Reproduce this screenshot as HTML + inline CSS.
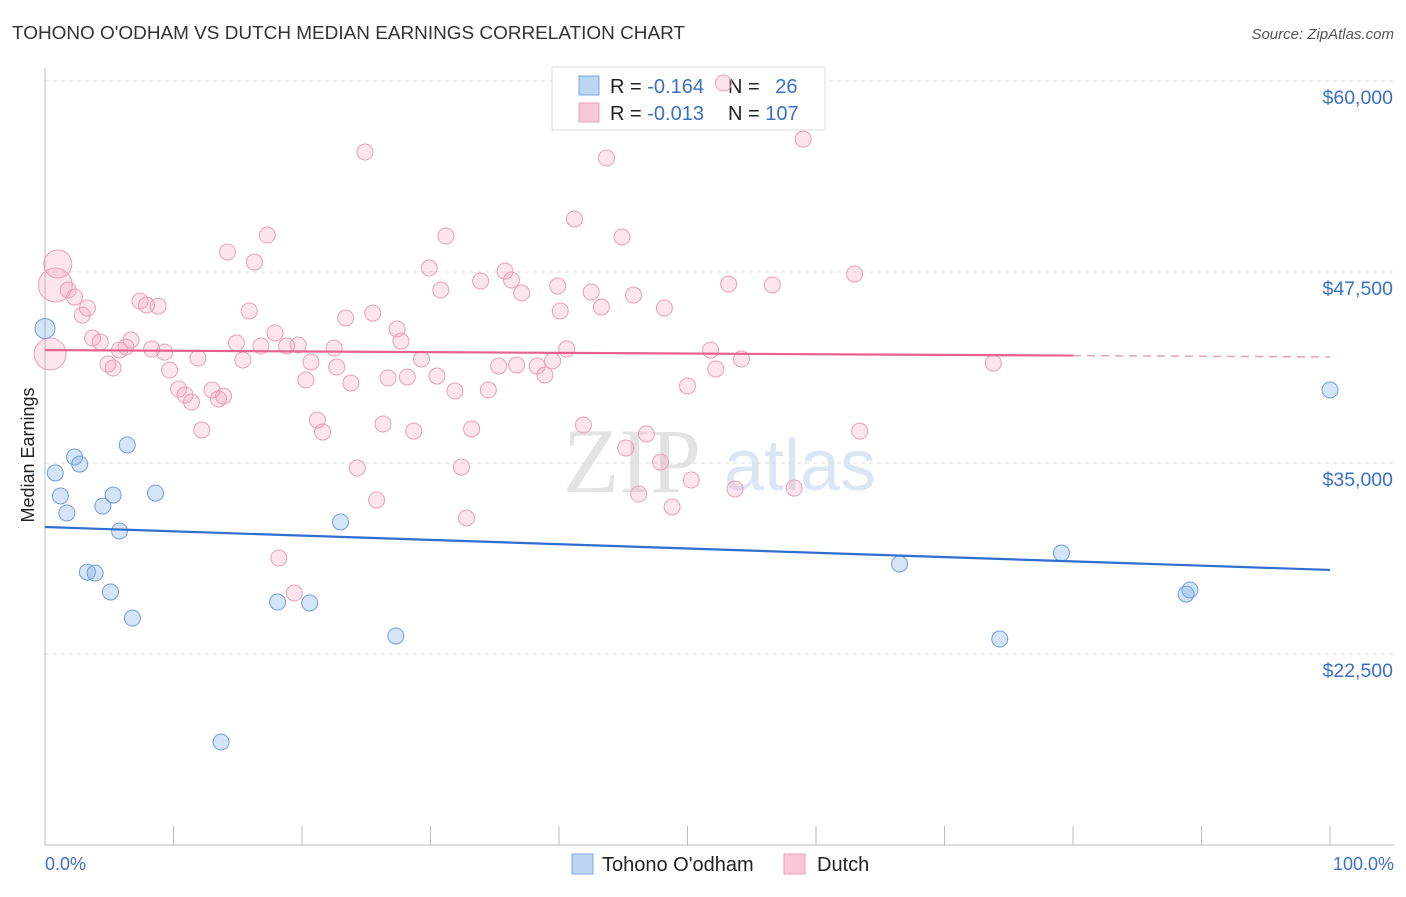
<!DOCTYPE html>
<html><head><meta charset="utf-8"><style>
body{margin:0;background:#fff;font-family:"Liberation Sans",sans-serif;}
svg text{font-family:"Liberation Sans",sans-serif;}
</style></head><body>
<svg id="chart" width="1406" height="892" viewBox="0 0 1406 892">
<text x="12" y="39" font-size="18.5" fill="#333" textLength="673" lengthAdjust="spacingAndGlyphs">TOHONO O'ODHAM VS DUTCH MEDIAN EARNINGS CORRELATION CHART</text>
<text x="1394" y="39" font-size="15" fill="#555" font-style="italic" text-anchor="end">Source: ZipAtlas.com</text>
<g>
<text x="632" y="492" font-size="92" fill="#e3e3e3" text-anchor="middle" font-family="Liberation Serif,serif" style="font-family:'Liberation Serif',serif">ZIP</text>
<text x="800" y="490" font-size="72" fill="#dbe6f5" text-anchor="middle">atlas</text>
</g>
<g id="grid"></g>
<g id="axes"></g>
<g>
<rect x="552" y="67" width="273" height="63" fill="#fff" stroke="#ddd"/>
<rect x="579" y="76" width="20" height="19" fill="#bcd5f5" stroke="#7aa6e0"/>
<rect x="579" y="103" width="20" height="19" fill="#f8c8d6" stroke="#eaa0b8"/>
<text x="610" y="93" font-size="20" fill="#222">R = <tspan fill="#3a70c8">-0.164</tspan></text>
<text x="728" y="93" font-size="20" fill="#222">N = <tspan fill="#3a70c8" dx="10">26</tspan></text>
<text x="610" y="120" font-size="20" fill="#222">R = <tspan fill="#3a70c8">-0.013</tspan></text>
<text x="728" y="120" font-size="20" fill="#222">N = <tspan fill="#3a70c8">107</tspan></text>
</g>
<g id="pts"></g>
<g id="lines"></g>
<text transform="translate(34,455) rotate(-90)" font-size="18" fill="#222" text-anchor="middle">Median Earnings</text>
<text x="45" y="870" font-size="18" fill="#3a70c8">0.0%</text>
<text x="1394" y="870" font-size="18" fill="#3a70c8" text-anchor="end">100.0%</text>
<g>
<rect x="572" y="854" width="21" height="20" fill="#bcd5f5" stroke="#7aa6e0"/>
<text x="602" y="871" font-size="20" fill="#222">Tohono O'odham</text>
</g>
<g>
<rect x="784" y="854" width="21" height="20" fill="#f8c8d6" stroke="#eaa0b8"/>
<text x="817" y="871" font-size="20" fill="#222">Dutch</text>
</g>
</svg>
<script>
const yTicks=[60000,47500,35000,22500];
const yTickLabels=["$60,000","$47,500","$35,000","$22,500"];
const xTicks=[0,10,20,30,40,50,60,70,80,90,100];
const blueX=[0,0.8,1.2,1.7,2.3,2.7,3.3,3.9,4.5,5.1,5.3,5.8,6.4,6.8,8.6,13.7,18.1,20.6,23.0,27.3,66.5,74.3,79.1,88.8,89.1,100];
const blueY=[43800,34350,32840,31730,35390,34930,27860,27800,32180,26560,32900,30550,36180,24850,33030,16740,25900,25840,31140,23680,28390,23480,29110,26420,26690,39780];
const pinkX=[1.0,0.8,0.4,1.8,2.3,2.9,3.3,3.7,4.3,4.9,5.3,5.8,6.3,6.7,7.4,7.9,8.3,8.8,9.3,9.7,10.4,10.9,11.4,12.2,11.9,13.0,13.5,13.9,14.2,14.9,15.4,15.9,16.3,16.8,17.3,17.9,18.8,19.7,20.3,20.7,21.2,21.6,22.5,22.7,23.4,23.8,24.3,24.9,25.5,25.8,26.3,26.7,27.4,27.7,28.2,28.7,29.3,29.9,30.5,30.8,31.2,31.9,32.4,32.8,33.2,33.9,34.5,35.3,35.8,36.3,36.7,37.1,38.3,38.9,39.5,39.9,40.1,40.6,41.2,41.9,42.5,43.3,43.7,44.9,45.2,45.8,46.2,46.8,47.9,48.2,48.8,50.0,50.3,51.8,52.2,53.2,53.7,54.2,56.6,58.3,59.0,63.0,63.4,73.8,52.8,18.2,19.4];
const pinkY=[48020,46650,42130,46320,45860,44680,45140,43180,42920,41480,41215,42390,42590,43050,45600,45340,42460,45270,42260,41085,39840,39450,38990,37160,41870,39775,39190,39380,48810,42850,41740,44950,48150,42655,49920,43510,42655,42720,40430,41610,37810,37025,42525,41280,44490,40230,34670,55350,44810,32575,37550,40560,43770,42980,40630,37090,41805,47760,40690,46320,49855,39710,34740,31400,37225,46910,39775,41350,47560,46975,41410,46125,41350,40760,41680,46580,44950,42460,50970,37485,46190,45210,54960,49790,35980,45990,32970,36900,35060,45140,32120,40040,33885,42390,41150,46710,33300,41805,46650,33360,56200,47370,37090,41540,59870,28780,26490];
const pinkR=[14,17,16];
const blueTrend=[30810,28000];
const pinkTrend=[42390,41940];
const NS="http://www.w3.org/2000/svg";
const X0=45,X1=1330,Y60=81,PXK=191/12500;
const sx=v=>X0+(X1-X0)*v/100;
const sy=v=>Y60+(60000-v)*PXK;
function mk(tag,attrs,parent){const e=document.createElementNS(NS,tag);for(const k in attrs)e.setAttribute(k,attrs[k]);parent.appendChild(e);return e;}
const grid=document.getElementById('grid'),axes=document.getElementById('axes'),pts=document.getElementById('pts'),lines=document.getElementById('lines');
yTicks.forEach((t,i)=>{
 const l=mk('line',{x1:X0,x2:1394,y1:sy(t),y2:sy(t),stroke:'#ddd','stroke-dasharray':'4,4'},grid);
 
 
 const tx=mk('text',{x:1393,y:sy(t)+23,'font-size':19.5,fill:'#3a70c8','text-anchor':'end'},grid);
 tx.textContent=yTickLabels[i];
 
 
});
const ya=mk('line',{x1:X0,x2:X0,y1:68,y2:845,stroke:'#bbb'},axes);


const xa=mk('line',{x1:X0,x2:1394,y1:845,y2:845,stroke:'#bbb'},axes);


xTicks.forEach(t=>{
 const tk=mk('line',{x1:sx(t),x2:sx(t),y1:826,y2:845,stroke:'#bbb'},axes);
 
 
});
pinkX.forEach((x,i)=>{
 const c=mk('circle',{cx:sx(x),cy:sy(pinkY[i]),r:pinkR[i]||8,fill:'rgba(242,150,180,0.25)',stroke:'#eaa0b8','stroke-width':1},pts);
 
 
});
blueX.forEach((x,i)=>{
 const c=mk('circle',{cx:sx(x),cy:sy(blueY[i]),r:i===0?10:8,fill:'rgba(120,165,230,0.3)',stroke:'#6f9ee0','stroke-width':1},pts);
 
 
});
const bl=mk('line',{x1:sx(0),y1:sy(blueTrend[0]),x2:sx(100),y2:sy(blueTrend[1]),stroke:'#2f6fd0','stroke-width':2.2},lines);


const pm=(t)=>pinkTrend[0]+(pinkTrend[1]-pinkTrend[0])*t/100;
const pl=mk('line',{x1:sx(0),y1:sy(pm(0)),x2:sx(80),y2:sy(pm(80)),stroke:'#e8608c','stroke-width':2.2},lines);


const pd=mk('line',{x1:sx(80),y1:sy(pm(80)),x2:sx(100),y2:sy(pm(100)),stroke:'#e8a0b8','stroke-width':1.5,'stroke-dasharray':'8,6'},lines);


</script>
</body></html>
